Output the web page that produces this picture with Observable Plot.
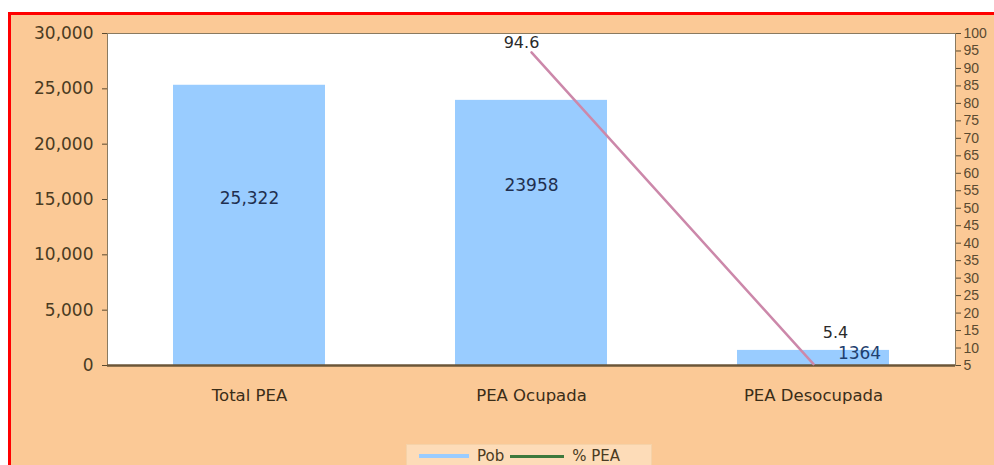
<!DOCTYPE html>
<html><head><meta charset="utf-8">
<script src="https://cdn.jsdelivr.net/npm/d3@7"></script>
<script src="https://cdn.jsdelivr.net/npm/@observablehq/plot@0.6"></script>
<style>
body{margin:0;background:#fff;width:994px;height:465px;overflow:hidden;position:relative;font-family:"DejaVu Sans",sans-serif}
#bg{position:absolute;left:8px;top:12px;width:986px;height:453px;background:#fbc996;border-top:3px solid #f00;border-left:3px solid #f00;box-sizing:border-box}
#chart{position:absolute;left:0;top:0}
#legend{position:absolute;left:406px;top:444px;width:246px;height:24px;background:#fddcb8;border:1px solid #f5d2a8;box-sizing:border-box;display:flex;align-items:center;font-size:15px;color:#4a3b22}
.sw{display:inline-block;width:50px;height:3px;margin:0 8px 0 12px}
</style></head>
<body>
<div id="bg"></div>
<div id="chart"></div>
<div id="legend"><span class="sw" style="background:#99ccff;height:4px"></span>Pob<span class="sw" style="background:#3d7a3d;margin-left:6px;width:54px"></span>% PEA</div>
<script>
const categories = ["Total PEA", "PEA Ocupada", "PEA Desocupada"];
const pob = [25322, 23958, 1364];
const pobLabels = ["25,322", "23958", "1364"];
const pctCategories = ["PEA Ocupada", "PEA Desocupada"];
const pct = [94.6, 5.4];
const pctLabels = ["94.6", "5.4"];
const leftTicks = [0, 5000, 10000, 15000, 20000, 25000, 30000];
const rightTicks = [5,10,15,20,25,30,35,40,45,50,55,60,65,70,75,80,85,90,95,100];

const yMax = 30000, pMin = 5, pMax = 100;
const toY = p => (p - pMin) / (pMax - pMin) * yMax;
const fromY = y => pMin + y / yMax * (pMax - pMin);

const bars = categories.map((c, i) => ({cat: c, pob: pob[i], label: pobLabels[i]}));
const pts = pctCategories.map((c, i) => ({cat: c, pct: pct[i], label: pctLabels[i]}));

const chart = Plot.plot({
  width: 994, height: 405,
  marginTop: 33, marginLeft: 107, marginRight: 39, marginBottom: 40,
  style: {background: "transparent", fontFamily: "DejaVu Sans, sans-serif", fontSize: "16px", color: "#4a3b22"},
  x: {domain: categories, paddingInner: 0.46, paddingOuter: 0.23, label: null},
  y: {domain: [0, yMax], label: null},
  marks: [
    Plot.frame({fill: "white", stroke: "#8a7a60"}),
    Plot.barY(bars, {x: "cat", y: "pob", fill: "#99ccff"}),
    Plot.axisY({ticks: leftTicks, tickFormat: d3.format(","), tickSize: 5, tickPadding: 9, stroke: "#5a4a30", fill: "#4a3b22", fontSize: 17, label: null}),
    Plot.axisY({anchor: "right", ticks: rightTicks.map(toY), tickFormat: d => String(Math.round(fromY(d))), tickSize: 5, tickPadding: 3, stroke: "#5a4a30", fill: "#5a4a30", fontSize: 14, fontFamily: "Liberation Sans Narrow, Liberation Sans, sans-serif", label: null}),
    Plot.axisX({tickSize: 0, tickPadding: 24, fill: "#3a2d18", fontSize: 16.5, label: null}),
    Plot.ruleY([0], {stroke: "#6b5638", strokeWidth: 2.5}),
    Plot.lineY(pts, {x: "cat", y: d => toY(d.pct), stroke: "#cc88aa", strokeWidth: 2.5}),
    Plot.text(bars.slice(0, 1), {x: "cat", y: d => d.pob / 2, text: "label", dy: -27, fill: "#1f2f4f", fontSize: 17}),
    Plot.text(bars.slice(1, 2), {x: "cat", y: d => d.pob / 2, text: "label", dy: -47, fill: "#1f2f4f", fontSize: 17}),
    Plot.text(bars.slice(2, 3), {x: "cat", y: "pob", text: "label", dx: 46, dy: 3, fill: "#1f3f6f", fontSize: 17}),
    Plot.text(pts.slice(0, 1), {x: "cat", y: d => toY(d.pct), text: "label", dx: -10, dy: -9, fill: "#2a2a2a", fontSize: 16}),
    Plot.text(pts.slice(1, 2), {x: "cat", y: d => toY(d.pct), text: "label", dx: 22, dy: -31, fill: "#2a2a2a", fontSize: 16})
  ]
});
document.getElementById("chart").appendChild(chart);
</script>
</body></html>
